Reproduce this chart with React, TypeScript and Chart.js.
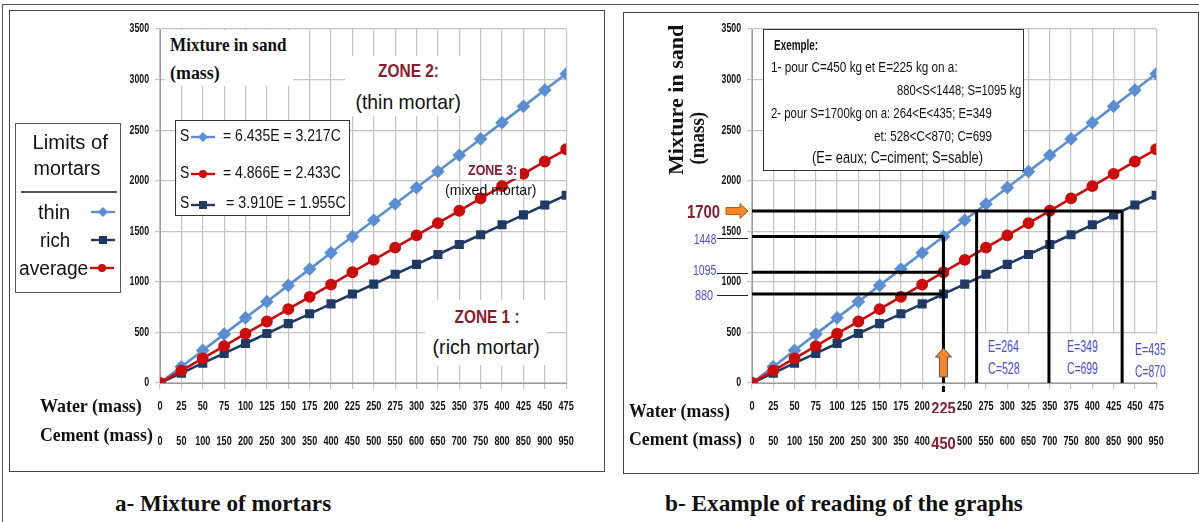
import React, { useEffect, useLayoutEffect, useRef } from 'react';
import { Chart, registerables } from 'chart.js';

Chart.register(...registerables);

// ---------- data ----------
const waterMass = [0, 25, 50, 75, 100, 125, 150, 175, 200, 225, 250, 275, 300, 325, 350, 375, 400, 425, 450, 475];
const thinSand = [0, 161, 322, 483, 644, 804, 965, 1126, 1287, 1448, 1609, 1770, 1931, 2091, 2252, 2413, 2574, 2735, 2896, 3057];
const averageSand = [0, 122, 243, 365, 487, 608, 730, 852, 973, 1095, 1217, 1338, 1460, 1581, 1703, 1825, 1946, 2068, 2190, 2311];
const richSand = [0, 98, 196, 293, 391, 489, 587, 684, 782, 880, 978, 1075, 1173, 1271, 1369, 1466, 1564, 1662, 1760, 1857];
const waterRange = [0, 475];
const cementRange = [0, 950];
const sandRange = [0, 3500];

// reading example (panel b)
const exampleWater = 225;
const exampleCement = 450;
const exampleSandBounds = [1448, 1095, 880];
const targetSand = 1700;
const targetWaters = [264, 349, 435];
const arrowSandSpan = [60, 345];

// ---------- style ----------
const SANS = "'Liberation Sans', Arial, sans-serif";
const SERIF = "'Liberation Serif', 'Times New Roman', serif";
const BLUE = '#5b8fd4';
const RED = '#cc0b0b';
const NAVY = '#1f3a64';
const ZONE = '#8b1a2e';
const CALLOUT = '#4b4bd6';
const GRID = '#c4c4c4';

const pts = (ys: number[]) => waterMass.map((x, i) => ({ x, y: ys[i] }));

// condensed look for the canvas tick labels (Arial Narrow is not installed)
const narrowCanvas = {
  id: 'narrowText',
  beforeDraw(chart: any) {
    const ctx = chart.ctx;
    if (ctx.__narrow) return;
    ctx.__narrow = true;
    const orig = ctx.fillText.bind(ctx);
    ctx.fillText = (text: string, x: number, y: number, mw?: number) => {
      const w = ctx.measureText(text).width;
      const big = /1[6-9]px/.test(ctx.font);
      orig(text, x, y, mw ?? w * (big ? 0.86 : 0.7));
    };
  },
};

function drawReading(chart: any) {
  const { ctx, chartArea, scales } = chart;
  const x = scales.x;
  const y = scales.y;
  ctx.save();
  ctx.strokeStyle = '#222';
  ctx.lineWidth = 1;
  for (const s of exampleSandBounds) {
    const py = Math.round(y.getPixelForValue(s)) + 1.5;
    ctx.beginPath();
    ctx.moveTo(chartArea.left - 35, py);
    ctx.lineTo(chartArea.left - 4, py);
    ctx.stroke();
  }
  // right-pointing arrow at target sand
  const ay = y.getPixelForValue(targetSand);
  const ax0 = chartArea.left - 26;
  const ax1 = chartArea.left - 4;
  ctx.beginPath();
  ctx.moveTo(ax0, ay - 3.5);
  ctx.lineTo(ax1 - 8, ay - 3.5);
  ctx.lineTo(ax1 - 8, ay - 7.5);
  ctx.lineTo(ax1, ay);
  ctx.lineTo(ax1 - 8, ay + 7.5);
  ctx.lineTo(ax1 - 8, ay + 3.5);
  ctx.lineTo(ax0, ay + 3.5);
  ctx.closePath();
  ctx.fillStyle = '#f7862a';
  ctx.fill();
  ctx.strokeStyle = '#b85a10';
  ctx.stroke();
  // upward arrow under the example water
  const ux = x.getPixelForValue(exampleWater);
  const tip = y.getPixelForValue(arrowSandSpan[1]);
  const base = y.getPixelForValue(arrowSandSpan[0]);
  ctx.beginPath();
  ctx.moveTo(ux - 4, base);
  ctx.lineTo(ux - 4, tip + 9);
  ctx.lineTo(ux - 8, tip + 9);
  ctx.lineTo(ux, tip);
  ctx.lineTo(ux + 8, tip + 9);
  ctx.lineTo(ux + 4, tip + 9);
  ctx.lineTo(ux + 4, base);
  ctx.closePath();
  ctx.fillStyle = '#f7862a';
  ctx.fill();
  ctx.strokeStyle = '#555';
  ctx.stroke();
  // short dash of the 225 line under the axis
  ctx.strokeStyle = '#000';
  ctx.lineWidth = 3;
  ctx.beginPath();
  ctx.moveTo(ux, chartArea.bottom + 3);
  ctx.lineTo(ux, chartArea.bottom + 9);
  ctx.stroke();
  ctx.restore();
}

function MortarChart(props: { left: number; width: number; yWidth: number; padRight: number; example: boolean }) {
  const ref = useRef<HTMLCanvasElement>(null);
  useEffect(() => {
    const canvas = ref.current;
    if (!canvas) return;
    const tickFont = { family: SANS, size: 13, weight: 'bold' as const };
    const bigFont = { family: SANS, size: 17, weight: 'bold' as const };
    const datasets: any[] = [
      { label: 'average', data: pts(averageSand), borderColor: RED, backgroundColor: RED, pointStyle: 'circle', pointRadius: 4.6, borderWidth: 2.6, order: 2 },
      { label: 'rich', data: pts(richSand), borderColor: NAVY, backgroundColor: NAVY, pointStyle: 'rect', pointRadius: 4.6, borderWidth: 2.6, order: 3 },
      { label: 'thin', data: pts(thinSand), borderColor: BLUE, backgroundColor: BLUE, pointStyle: 'rectRot', pointRadius: 5, borderWidth: 2.6, order: 4 },
    ];
    if (props.example) {
      const guide = (data: { x: number; y: number }[]) => ({
        data, borderColor: '#000', borderWidth: 3, pointRadius: 0, order: 0, clip: false,
      });
      const maxE = Math.max(...targetWaters);
      datasets.push(guide([{ x: 0, y: targetSand }, { x: maxE, y: targetSand }]));
      for (const e of targetWaters) datasets.push(guide([{ x: e, y: targetSand }, { x: e, y: 0 }]));
      for (const s of exampleSandBounds) datasets.push(guide([{ x: 0, y: s }, { x: exampleWater, y: s }]));
      datasets.push(guide([{ x: exampleWater, y: Math.max(...exampleSandBounds) }, { x: exampleWater, y: 0 }]));
    }
    const chart = new Chart(canvas, {
      type: 'line',
      data: { datasets },
      options: {
        animation: false,
        responsive: false,
        maintainAspectRatio: false,
        layout: { padding: { left: 0, right: props.padRight, top: 14, bottom: 0 } },
        plugins: { legend: { display: false }, tooltip: { enabled: false } },
        scales: {
          x: {
            type: 'linear', position: 'bottom', weight: 0,
            min: waterRange[0], max: waterRange[1],
            ticks: {
              stepSize: 25, autoSkip: false, maxRotation: 0, minRotation: 0, padding: 10,
              callback: (v: any) => String(v),
              font: (c: any) => (props.example && c.tick && c.tick.value === exampleWater ? bigFont : tickFont),
              color: (c: any) => (props.example && c.tick && c.tick.value === exampleWater ? ZONE : '#111'),
            },
            grid: { color: GRID, lineWidth: 1.2, tickLength: 6 },
            border: { color: '#9a9a9a' },
            afterFit: (s: any) => { s.height = 30; },
          },
          x2: {
            type: 'linear', position: 'bottom', weight: 1,
            min: cementRange[0], max: cementRange[1],
            ticks: {
              stepSize: 50, autoSkip: false, maxRotation: 0, minRotation: 0, padding: 13,
              callback: (v: any) => String(v),
              font: (c: any) => (props.example && c.tick && c.tick.value === exampleCement ? bigFont : tickFont),
              color: (c: any) => (props.example && c.tick && c.tick.value === exampleCement ? ZONE : '#111'),
            },
            grid: { display: false },
            border: { display: false },
            afterFit: (s: any) => { s.height = 42; },
          },
          y: {
            type: 'linear', min: sandRange[0], max: sandRange[1],
            ticks: { stepSize: 500, padding: 6, font: { family: SANS, size: 12.5, weight: 'bold' }, color: '#111', callback: (v: any) => String(v) },
            grid: { color: GRID, lineWidth: 1.2, tickLength: 5 },
            border: { color: '#9a9a9a' },
            afterFit: (s: any) => { s.width = props.yWidth; },
          },
        },
      } as any,
      plugins: props.example ? [narrowCanvas, { id: 'reading', afterDatasetsDraw: drawReading }] : [narrowCanvas],
    });
    return () => chart.destroy();
  }, []);
  return (
    <canvas
      ref={ref}
      width={props.width}
      height={440}
      style={{ position: 'absolute', left: props.left, top: 15, width: props.width, height: 440 }}
    />
  );
}

function Icon({ color, shape }: { color: string; shape: 'diamond' | 'square' | 'circle' }) {
  return (
    <svg width={26} height={12} style={{ display: 'block' }}>
      <line x1={1} y1={6} x2={25} y2={6} stroke={color} strokeWidth={2.4} />
      {shape === 'diamond' && <polygon points="13,1 18,6 13,11 8,6" fill={color} />}
      {shape === 'square' && <rect x={9} y={2} width={8} height={8} fill={color} />}
      {shape === 'circle' && <circle cx={13} cy={6} r={4} fill={color} />}
    </svg>
  );
}

// text placed by its left edge x (or centre / right), vertical centre y, squeezed to the width "fit"
function T(props: { x: number; y: number; size: number; fit: number; font?: string; bold?: boolean; color?: string; children: React.ReactNode; align?: 'left' | 'center' | 'right' }) {
  const ref = useRef<HTMLSpanElement>(null);
  const align = props.align ?? 'left';
  useLayoutEffect(() => {
    const s = ref.current;
    if (!s) return;
    s.style.transform = 'none';
    const w = s.offsetWidth;
    if (w > 0) s.style.transform = `scaleX(${props.fit / w})`;
  });
  const W = 400;
  const left = align === 'center' ? props.x - W / 2 : align === 'right' ? props.x - W : props.x;
  return (
    <div
      style={{
        position: 'absolute', left, top: props.y - props.size * 0.6, width: W, height: props.size * 1.2,
        lineHeight: `${props.size * 1.2}px`, fontSize: props.size, fontFamily: props.font ?? SANS,
        fontWeight: props.bold ? 'bold' : 'normal', color: props.color ?? '#111', textAlign: align,
        whiteSpace: 'nowrap', pointerEvents: 'none',
      }}
    >
      <span ref={ref} style={{ display: 'inline-block', transformOrigin: align === 'center' ? '50% 50%' : align === 'right' ? '100% 50%' : '0 50%' }}>
        {props.children}
      </span>
    </div>
  );
}

// rotated (bottom-to-top) text centred on (x, y) with length "fit"
function V(props: { x: number; y: number; size: number; fit: number; children: React.ReactNode }) {
  const ref = useRef<HTMLSpanElement>(null);
  useLayoutEffect(() => {
    const s = ref.current;
    if (!s) return;
    s.style.transform = 'none';
    const w = s.offsetWidth;
    if (w > 0) s.style.transform = `scaleX(${props.fit / w})`;
  });
  return (
    <div style={{ position: 'absolute', left: props.x - 100, top: props.y - 12, width: 200, height: 24, lineHeight: '24px', textAlign: 'center', transform: 'rotate(-90deg)', fontFamily: SERIF, fontWeight: 'bold', fontSize: props.size, color: '#111', whiteSpace: 'nowrap' }}>
      <span ref={ref} style={{ display: 'inline-block', transformOrigin: '50% 50%' }}>{props.children}</span>
    </div>
  );
}

const box = (l: number, t: number, w: number, h: number, extra: React.CSSProperties = {}): React.CSSProperties => ({
  position: 'absolute', left: l, top: t, width: w, height: h, boxSizing: 'border-box', ...extra,
});

export default function App() {
  useEffect(() => {
    document.body.style.margin = '0';
  }, []);
  return (
    <div style={{ position: 'absolute', left: 0, top: 0, width: 1199, height: 522, background: '#fff', overflow: 'hidden' }}>
      {/* frames */}
      <div style={box(2, 4, 1197, 520, { borderTop: '1px solid #555', borderLeft: '1px solid #555' })} />
      <div style={box(9, 10, 596, 462, { border: '1.5px solid #444' })} />
      <div style={box(623, 12, 576, 462, { border: '1.5px solid #444' })} />

      <MortarChart left={100} width={490} yWidth={60} padRight={12} example={false} />
      <MortarChart left={690} width={490} yWidth={62} padRight={10} example={true} />

      {/* ---------- panel a annotations ---------- */}
      <div style={box(165, 30, 128, 56, { background: '#fff' })} />
      <T x={170} y={45} size={19} fit={117} font={SERIF} bold>Mixture in sand</T>
      <T x={170} y={73} size={19} fit={50} font={SERIF} bold>(mass)</T>

      <div style={box(345, 56, 135, 60, { background: '#fff' })} />
      <T x={409} y={72} size={18} fit={61} bold color={ZONE} align="center">ZONE 2:</T>
      <T x={408} y={102} size={21} fit={105} align="center">(thin mortar)</T>

      <div style={box(175, 120, 175, 96, { border: '1px solid #333', background: '#fff' })} />
      <T x={180} y={136} size={17} fit={9}>S</T>
      <div style={{ position: 'absolute', left: 190, top: 131 }}><Icon color={BLUE} shape="diamond" /></div>
      <T x={223} y={136} size={17} fit={118}>= 6.435E = 3.217C</T>
      <T x={180} y={173} size={17} fit={9}>S</T>
      <div style={{ position: 'absolute', left: 190, top: 168 }}><Icon color={RED} shape="circle" /></div>
      <T x={223} y={173} size={17} fit={118}>= 4.866E = 2.433C</T>
      <T x={180} y={203} size={17} fit={9}>S</T>
      <div style={{ position: 'absolute', left: 190, top: 199 }}><Icon color={NAVY} shape="square" /></div>
      <T x={226} y={203} size={17} fit={120}>= 3.910E = 1.955C</T>

      <div style={box(466, 161, 54, 18, { background: '#fff' })} />
      <T x={493} y={170} size={14} fit={49} bold color={ZONE} align="center">ZONE 3:</T>
      <T x={491} y={190} size={15} fit={92} align="center">(mixed mortar)</T>

      <div style={box(425, 300, 122, 65, { background: '#fff' })} />
      <T x={487} y={318} size={18} fit={65} bold color={ZONE} align="center">ZONE 1 :</T>
      <T x={486} y={347} size={21} fit={107} align="center">(rich mortar)</T>

      <div style={box(15, 123, 106, 170, { border: '1.5px solid #555', background: '#fff' })} />
      <T x={70} y={142} size={20} fit={75} align="center">Limits of</T>
      <T x={67} y={168} size={20} fit={67} align="center">mortars</T>
      <div style={box(21, 191, 96, 1.5, { background: '#555' })} />
      <T x={38} y={212} size={20} fit={32}>thin</T>
      <div style={{ position: 'absolute', left: 90, top: 206 }}><Icon color={BLUE} shape="diamond" /></div>
      <T x={40} y={240} size={20} fit={30}>rich</T>
      <div style={{ position: 'absolute', left: 90, top: 234 }}><Icon color={NAVY} shape="square" /></div>
      <T x={19} y={268} size={20} fit={69}>average</T>
      <div style={{ position: 'absolute', left: 89, top: 262 }}><Icon color={RED} shape="circle" /></div>

      <T x={40} y={406} size={19} fit={102} font={SERIF} bold>Water (mass)</T>
      <T x={40} y={435} size={19} fit={113} font={SERIF} bold>Cement (mass)</T>
      <T x={115} y={503} size={24} fit={216} font={SERIF} bold>a- Mixture of mortars</T>

      {/* ---------- panel b annotations ---------- */}
      <V x={676} y={100} size={20} fit={150}>Mixture in sand</V>
      <V x={697} y={138} size={20} fit={53}>(mass)</V>

      <div style={box(763, 29, 261, 142, { border: '1px solid #333', background: '#fff' })} />
      <T x={774} y={45} size={14} fit={44} bold>Exemple:</T>
      <T x={771} y={67} size={14} fit={187}>1- pour C=450 kg et E=225 kg  on a:</T>
      <T x={1021} y={90} size={14} fit={124} align="right">880&lt;S&lt;1448; S=1095 kg</T>
      <T x={771} y={113} size={14} fit={221}>2- pour S=1700kg on a: 264&lt;E&lt;435; E=349</T>
      <T x={992} y={136} size={14} fit={118} align="right">et: 528&lt;C&lt;870; C=699</T>
      <T x={812} y={158} size={16} fit={171}>(E= eaux; C=ciment; S=sable)</T>

      <T x={687} y={213} size={18} fit={33} bold color={ZONE}>1700</T>
      <T x={694} y={239} size={15} fit={22} color={CALLOUT}>1448</T>
      <T x={693} y={270} size={15} fit={23} color={CALLOUT}>1095</T>
      <T x={695} y={295} size={15} fit={18} color={CALLOUT}>880</T>

      <div style={box(985, 334, 55, 48, { background: '#fff' })} />
      <T x={988} y={347} size={16} fit={31} color={CALLOUT}>E=264</T>
      <T x={988} y={369} size={16} fit={32} color={CALLOUT}>C=528</T>
      <div style={box(1064, 334, 56, 48, { background: '#fff' })} />
      <T x={1067} y={347} size={16} fit={31} color={CALLOUT}>E=349</T>
      <T x={1067} y={369} size={16} fit={31} color={CALLOUT}>C=699</T>
      <div style={box(1133, 334, 45, 48, { background: '#fff' })} />
      <T x={1135} y={350} size={16} fit={31} color={CALLOUT}>E=435</T>
      <T x={1135} y={372} size={16} fit={31} color={CALLOUT}>C=870</T>

      <T x={629} y={411} size={19} fit={101} font={SERIF} bold>Water (mass)</T>
      <T x={629} y={439} size={19} fit={113} font={SERIF} bold>Cement (mass)</T>
      <T x={665} y={503} size={24} fit={358} font={SERIF} bold>b- Example of reading of the graphs</T>
    </div>
  );
}
